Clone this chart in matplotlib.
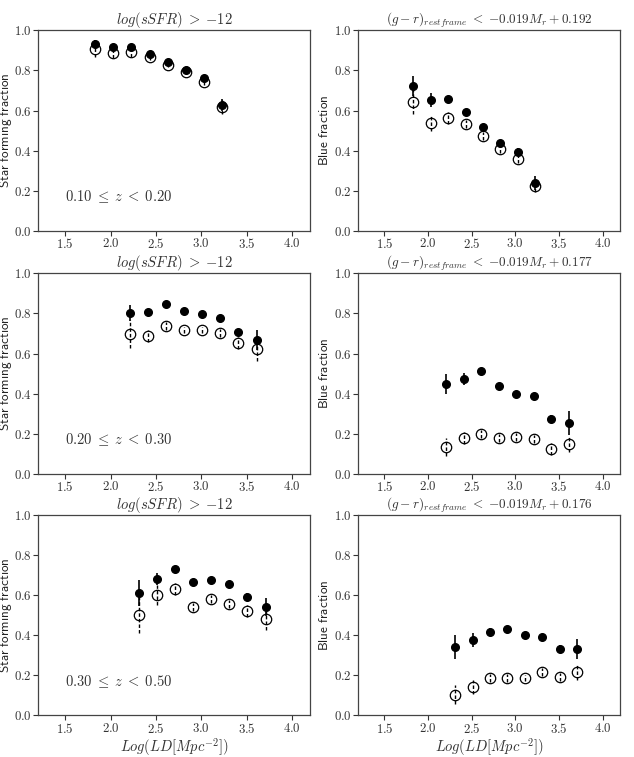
import matplotlib
matplotlib.use("Agg")
import matplotlib.pyplot as plt
from matplotlib.ticker import FormatStrFormatter, MultipleLocator

plt.rcParams["mathtext.fontset"] = "cm"
plt.rcParams["font.family"] = "DejaVu Sans"

# ---- data, one entry per row (redshift bin) ----
z_labels = [r"$0.10\;\leq\;z\;<\;0.20$", r"$0.20\;\leq\;z\;<\;0.30$", r"$0.30\;\leq\;z\;<\;0.50$"]
blue_titles = [
    r"$(g-r)_{restframe}\;<\;{-}0.019M_r+0.192$",
    r"$(g-r)_{restframe}\;<\;{-}0.019M_r+0.177$",
    r"$(g-r)_{restframe}\;<\;{-}0.019M_r+0.176$",
]
sf_title = r"$log(sSFR)\;>\;{-}12$"
sf_ylabel = r"$\mathsf{Star\ forming\ fraction}$"
blue_ylabel = r"$\mathsf{Blue\ fraction}$"
x_label = r"$Log(LD[Mpc^{-2}])$"

ld_bins = [
    [1.83, 2.03, 2.23, 2.43, 2.63, 2.83, 3.03, 3.23],
    [2.21, 2.41, 2.61, 2.81, 3.01, 3.21, 3.41, 3.61],
    [2.31, 2.51, 2.71, 2.91, 3.11, 3.31, 3.51, 3.71],
]

# star forming fraction (filled / open)
sf_filled = [
    [0.932, 0.915, 0.915, 0.882, 0.840, 0.800, 0.760, 0.626],
    [0.804, 0.809, 0.847, 0.812, 0.796, 0.779, 0.709, 0.668],
    [0.609, 0.679, 0.730, 0.666, 0.677, 0.656, 0.588, 0.538],
]
sf_filled_err = [
    [0.02, 0.01, 0.01, 0.01, 0.01, 0.01, 0.01, 0.03],
    [0.04, 0.015, 0.01, 0.01, 0.01, 0.01, 0.015, 0.05],
    [0.065, 0.03, 0.015, 0.01, 0.01, 0.01, 0.02, 0.045],
]
sf_open = [
    [0.907, 0.887, 0.890, 0.865, 0.827, 0.790, 0.744, 0.617],
    [0.699, 0.689, 0.739, 0.719, 0.718, 0.704, 0.653, 0.623],
    [0.502, 0.601, 0.632, 0.538, 0.581, 0.553, 0.522, 0.480],
]
sf_open_err = [
    [0.04, 0.025, 0.025, 0.015, 0.01, 0.01, 0.015, 0.035],
    [0.07, 0.03, 0.02, 0.015, 0.015, 0.02, 0.03, 0.06],
    [0.09, 0.05, 0.03, 0.02, 0.02, 0.02, 0.03, 0.055],
]

# blue fraction (filled / open)
blue_filled = [
    [0.724, 0.652, 0.656, 0.592, 0.516, 0.438, 0.394, 0.238],
    [0.450, 0.472, 0.515, 0.439, 0.399, 0.389, 0.272, 0.252],
    [0.341, 0.374, 0.414, 0.432, 0.399, 0.392, 0.329, 0.331],
]
blue_filled_err = [
    [0.05, 0.035, 0.015, 0.015, 0.015, 0.015, 0.02, 0.035],
    [0.05, 0.03, 0.015, 0.015, 0.015, 0.015, 0.02, 0.06],
    [0.058, 0.035, 0.02, 0.015, 0.015, 0.015, 0.02, 0.05],
]
blue_open = [
    [0.641, 0.536, 0.561, 0.531, 0.474, 0.406, 0.359, 0.226],
    [0.136, 0.181, 0.201, 0.181, 0.183, 0.173, 0.125, 0.148],
    [0.104, 0.141, 0.185, 0.185, 0.184, 0.217, 0.190, 0.214],
]
blue_open_err = [
    [0.06, 0.04, 0.03, 0.02, 0.02, 0.02, 0.02, 0.03],
    [0.045, 0.03, 0.02, 0.02, 0.02, 0.02, 0.03, 0.04],
    [0.045, 0.035, 0.02, 0.02, 0.015, 0.02, 0.02, 0.04],
]

fig = plt.figure(figsize=(6.34, 7.57), dpi=100)

col_left = [0.06, 0.565]
col_width = [0.429, 0.413]
row_bottom = [0.695, 0.374, 0.055]
row_height = 0.265

tick_fs = 9.2
text_col = "#333333"
spine_col = "#444444"


def draw_panel(ax, x, yf, ef, yo, eo):
    # open circles with dashed error bars
    ax.errorbar(x, yo, yerr=eo, fmt="o", ms=7.5, mfc="none", mec="black",
                mew=0.9, ecolor="black", elinewidth=0, ls="none", zorder=2)
    for xi, yi, ei in zip(x, yo, eo):
        ax.plot([xi, xi], [yi - ei, yi + ei], color="black", lw=1.0,
                ls=(0, (2.5, 1.5)), zorder=3)
    # filled circles with solid error bars
    ax.errorbar(x, yf, yerr=ef, fmt="o", ms=5.5, mfc="black", mec="black",
                ecolor="black", elinewidth=1.2, ls="none", zorder=4)
    ax.set_xlim(1.2, 4.2)
    ax.set_ylim(0.0, 1.0)
    ax.xaxis.set_major_locator(MultipleLocator(0.5))
    ax.yaxis.set_major_locator(MultipleLocator(0.2))
    ax.xaxis.set_major_formatter(FormatStrFormatter(r"$%.1f$"))
    ax.yaxis.set_major_formatter(FormatStrFormatter(r"$%.1f$"))
    ax.tick_params(labelsize=tick_fs, colors=text_col, length=3.5, width=0.8, pad=1.2)
    for sp in ax.spines.values():
        sp.set_color(spine_col)
        sp.set_linewidth(0.9)


for r in range(3):
    axl = fig.add_axes([col_left[0], row_bottom[r], col_width[0], row_height])
    draw_panel(axl, ld_bins[r], sf_filled[r], sf_filled_err[r], sf_open[r], sf_open_err[r])
    axl.set_title(sf_title, fontsize=10.5, pad=4, color=text_col)
    axl.set_ylabel(sf_ylabel, fontsize=9.5, color="#222222")
    axl.yaxis.set_label_coords(-0.09, 0.5)
    axl.text(0.1, 0.17, z_labels[r], transform=axl.transAxes, fontsize=10.5,
             ha="left", va="center", color=text_col)

    axr = fig.add_axes([col_left[1], row_bottom[r], col_width[1], row_height])
    draw_panel(axr, ld_bins[r], blue_filled[r], blue_filled_err[r], blue_open[r], blue_open_err[r])
    axr.set_title(blue_titles[r], fontsize=9.5, pad=4, color=text_col)
    axr.set_ylabel(blue_ylabel, fontsize=9.5, color="#222222")
    axr.yaxis.set_label_coords(-0.103, 0.5)

    if r == 2:
        axl.set_xlabel(x_label, fontsize=10.5, labelpad=0, color=text_col)
        axr.set_xlabel(x_label, fontsize=10.5, labelpad=0, color=text_col)

fig.savefig("out.png", dpi=100)
